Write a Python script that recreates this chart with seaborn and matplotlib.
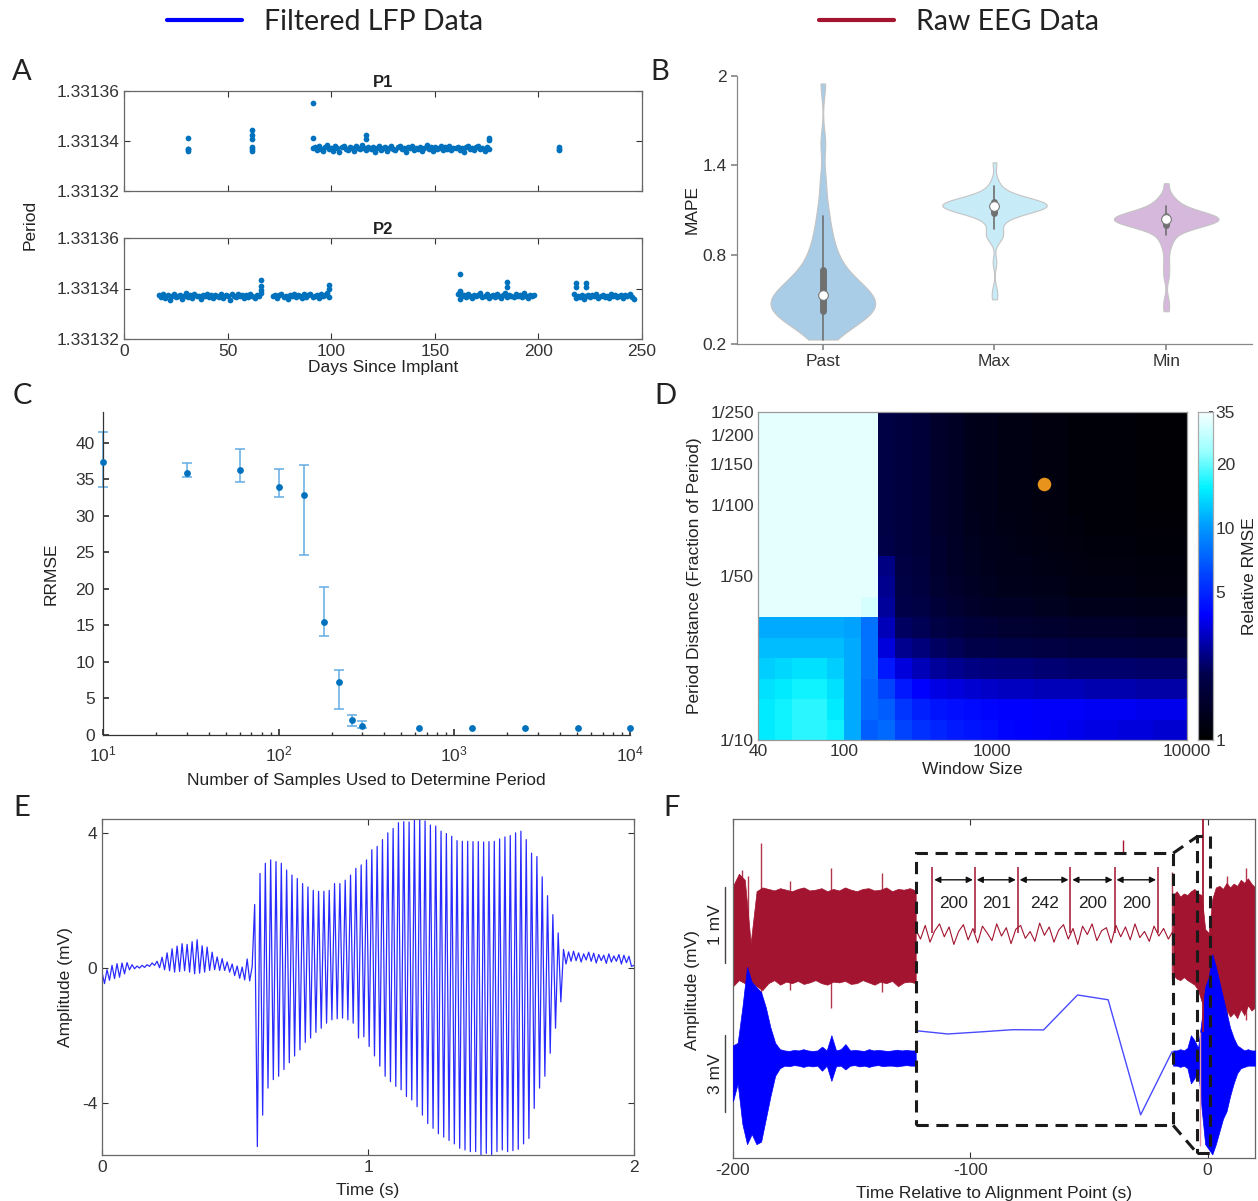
import numpy as np
import pandas as pd
import matplotlib
matplotlib.use("Agg")
import matplotlib.pyplot as plt
import matplotlib.transforms as mtransforms
from matplotlib.colors import LinearSegmentedColormap, LogNorm
from matplotlib.lines import Line2D
from matplotlib.patches import Rectangle
from matplotlib.ticker import FormatStrFormatter, NullLocator
import seaborn as sns

# ---------------------------------------------------------------- data
# Panel A : period estimates (offsets in 1e-7 relative to 1.33134)
A_BASE = 1.33134
a_yticks = [1.33132, 1.33134, 1.33136]
a_yticklabels = ["1.33132", "1.33134", "1.33136"]
p1_main_start = 91
p1_main_off = [-28, -22, -35, -19, -30, -41, -24, -17, -33, -27,
               -38, -21, -29, -45, -25, -18, -31, -36, -23, -27,
               -40, -20, -26, -33, -16, -29, -37, -24, -31, -22,
               -44, -27, -19, -34, -28, -23, -39, -26, -21, -30,
               -35, -25, -18, -32, -27, -42, -24, -29, -20, -36,
               -26, -31, -22, -38, -28, -17, -33, -25, -40, -23,
               -30, -27, -21, -35, -24, -32, -19, -37, -26, -29,
               -22, -34, -28, -43, -25, -20, -31, -27, -36, -23,
               -18, -30, -26, -39, -24, -33]
p1_extra_days = [31, 31, 31, 31, 62, 62, 62, 62, 62, 62, 91, 91, 117, 117, 176, 176, 210, 210, 210]
p1_extra_off = [11, -30, -33, -38, 44, 25, 10, -25, -33, -38, 153, 11, 25, 10, 13, 5, -25, -34, -30]

p2_a_start, p2_b_start, p2_c_start, p2_d_start = 17, 72, 161, 217
p2_a_off = [-25, -32, -20, -38, -27, -45, -30, -22, -35, -28,
            -24, -40, -29, -19, -33, -26, -37, -23, -31, -28,
            -42, -25, -30, -21, -34, -27, -38, -24, -29, -32,
            -20, -36, -26, -31, -44, -23, -28, -35, -22, -30,
            -27, -39, -25, -33, -21, -29, -36, -24, -31, -18]
p2_b_off = [-30, -24, -36, -27, -21, -33, -28, -40, -25, -31,
            -22, -35, -26, -29, -38, -23, -32, -27, -20, -34,
            -29, -25, -37, -22, -31, -26, -19, -33]
p2_c_off = [-20, -42, -30, -26, -35, -22, -29, -38, -24, -31,
            -27, -19, -34, -28, -23, -36, -30, -25, -33, -21,
            -29, -37, -26, -16, -32, -24, -28, -35, -22, -30,
            -26, -33, -18, -29, -36, -24, -31, -27]
p2_d_off = [-22, -38, -28, -33, -25, -40, -30, -24, -35, -27,
            -31, -21, -36, -29, -25, -33, -28, -39, -23, -30,
            -26, -34, -29, -24, -37, -27, -31, -22, -35, -42]
p2_extra_days = [66, 66, 66, 99, 99, 162, 162, 162, 185, 185, 218, 218, 223, 223]
p2_extra_off = [32, 10, -5, 13, 0, 57, -10, -15, 26, 5, 22, 5, 22, 5]

# Panel B : MAPE samples
b_categories = ["Past", "Max", "Min"]
b_past = [0.23, 0.26, 0.29, 0.31, 0.33, 0.35, 0.36, 0.37, 0.38, 0.39, 0.40, 0.41,
          0.42, 0.43, 0.44, 0.44, 0.45, 0.46, 0.46, 0.47, 0.48, 0.49, 0.50, 0.51,
          0.52, 0.53, 0.54, 0.55, 0.56, 0.57, 0.58, 0.59, 0.60, 0.62, 0.63, 0.65,
          0.67, 0.69, 0.71, 0.74, 0.77, 0.80, 0.84, 0.88, 0.93, 0.99, 1.06, 1.15,
          1.30, 1.55, 1.95]
b_max = [0.50, 0.56, 0.75, 0.90, 0.92, 0.93, 0.94, 0.97, 1.00, 1.03, 1.05, 1.06,
         1.07, 1.08, 1.09, 1.09, 1.10, 1.10, 1.10, 1.11, 1.11, 1.11, 1.12, 1.12,
         1.12, 1.12, 1.13, 1.13, 1.13, 1.13, 1.13, 1.14, 1.14, 1.14, 1.14, 1.15,
         1.15, 1.15, 1.15, 1.16, 1.16, 1.16, 1.17, 1.17, 1.18, 1.19, 1.20, 1.21,
         1.23, 1.26, 1.30, 1.42]
b_min = [0.42, 0.49, 0.65, 0.72, 0.80, 0.88, 0.89, 0.93, 0.96, 0.98, 0.99, 1.00,
         1.00, 1.01, 1.01, 1.02, 1.02, 1.02, 1.03, 1.03, 1.03, 1.03, 1.04, 1.04,
         1.04, 1.04, 1.04, 1.05, 1.05, 1.05, 1.05, 1.06, 1.06, 1.06, 1.07, 1.07,
         1.08, 1.09, 1.10, 1.11, 1.13, 1.16, 1.17, 1.18, 1.28]
b_colors = ["#a9cce7", "#c8ebf8", "#d6b8dc"]
b_yticks = [0.2, 0.8, 1.4, 2.0]
b_yticklabels = ["0.2", "0.8", "1.4", "2"]

# Panel C : RRMSE vs samples
c_samples = [10, 30, 60, 100, 140, 180, 220, 260, 300, 630, 1260, 2520, 5040, 10000]
c_rrmse = [37.3, 35.9, 36.2, 33.9, 32.8, 15.4, 7.3, 2.1, 1.3, 1.0, 1.0, 1.0, 1.0, 1.0]
c_upper = [41.4, 37.2, 39.1, 36.4, 37.0, 20.3, 8.9, 2.8, 1.9]
c_lower = [34.0, 35.3, 34.6, 32.6, 24.7, 13.5, 3.5, 1.2, 1.0]

# Panel D : relative RMSE grid (rows: 1/250 -> 1/10, cols: window 40 -> 10000)
d_grid = [
    [32, 32, 32, 32, 32, 32, 32, 1.9, 1.8, 1.7, 1.5, 1.4, 1.3, 1.25, 1.2, 1.2, 1.15, 1.15, 1.1, 1.1, 1.1, 1.1, 1.05, 1.05, 1.05],
    [32, 32, 32, 32, 32, 32, 32, 1.9, 1.8, 1.7, 1.5, 1.4, 1.3, 1.25, 1.2, 1.2, 1.15, 1.15, 1.1, 1.1, 1.1, 1.1, 1.05, 1.05, 1.05],
    [32, 32, 32, 32, 32, 32, 32, 1.9, 1.8, 1.7, 1.5, 1.4, 1.3, 1.25, 1.2, 1.2, 1.15, 1.15, 1.1, 1.1, 1.1, 1.1, 1.05, 1.05, 1.05],
    [32, 32, 32, 32, 32, 32, 32, 1.9, 1.8, 1.7, 1.5, 1.4, 1.3, 1.25, 1.2, 1.2, 1.15, 1.15, 1.1, 1.1, 1.1, 1.1, 1.05, 1.05, 1.05],
    [32, 32, 32, 32, 32, 32, 32, 1.9, 1.8, 1.7, 1.5, 1.4, 1.3, 1.25, 1.2, 1.2, 1.15, 1.15, 1.1, 1.1, 1.1, 1.1, 1.05, 1.05, 1.05],
    [32, 32, 32, 32, 32, 32, 32, 1.9, 1.8, 1.7, 1.5, 1.4, 1.32, 1.27, 1.22, 1.2, 1.17, 1.15, 1.12, 1.1, 1.1, 1.1, 1.07, 1.07, 1.07],
    [32, 32, 32, 32, 32, 32, 32, 2.0, 1.8, 1.7, 1.55, 1.45, 1.35, 1.3, 1.25, 1.22, 1.2, 1.18, 1.15, 1.13, 1.12, 1.12, 1.1, 1.1, 1.1],
    [32, 32, 32, 32, 32, 32, 32, 2.5, 1.85, 1.75, 1.55, 1.45, 1.37, 1.32, 1.27, 1.25, 1.22, 1.2, 1.17, 1.15, 1.15, 1.15, 1.12, 1.12, 1.12],
    [32, 32, 32, 32, 32, 32, 32, 2.6, 1.9, 1.8, 1.6, 1.5, 1.4, 1.35, 1.3, 1.3, 1.25, 1.25, 1.2, 1.2, 1.2, 1.2, 1.15, 1.15, 1.15],
    [32, 32, 32, 32, 32, 32, 30, 2.7, 2.0, 1.9, 1.7, 1.6, 1.5, 1.45, 1.4, 1.4, 1.35, 1.35, 1.3, 1.3, 1.3, 1.3, 1.25, 1.25, 1.25],
    [11, 11, 11, 11, 11, 10.5, 8, 3.0, 2.2, 2.1, 1.9, 1.8, 1.7, 1.65, 1.6, 1.6, 1.55, 1.55, 1.5, 1.5, 1.5, 1.5, 1.45, 1.45, 1.45],
    [12, 12, 12, 12, 12, 11, 8, 3.4, 2.6, 2.4, 2.2, 2.1, 2.0, 1.95, 1.9, 1.9, 1.85, 1.85, 1.8, 1.8, 1.8, 1.8, 1.75, 1.75, 1.75],
    [13, 13.5, 14, 14, 13, 11, 8, 4.5, 3.4, 3.0, 2.7, 2.6, 2.5, 2.45, 2.4, 2.4, 2.35, 2.35, 2.3, 2.3, 2.3, 2.3, 2.25, 2.25, 2.25],
    [14, 15, 16, 16, 14, 11, 7.5, 6.0, 4.5, 3.9, 3.5, 3.4, 3.3, 3.2, 3.1, 3.1, 3.0, 3.0, 3.0, 2.9, 2.9, 2.9, 2.8, 2.8, 2.8],
    [15, 16, 17, 17, 15, 11, 7.5, 7.0, 5.5, 4.8, 4.4, 4.2, 4.1, 4.0, 3.9, 3.9, 3.8, 3.8, 3.8, 3.7, 3.7, 3.7, 3.6, 3.6, 3.6],
    [15, 16, 17, 17, 16, 11, 7, 7.5, 6.0, 5.3, 4.9, 4.6, 4.4, 4.2, 4.0, 3.9, 3.8, 3.7, 3.6, 3.5, 3.5, 3.4, 3.4, 3.3, 3.3],
]
d_xtick_vals = [40, 100, 1000, 10000]
d_xtick_frac = [0.0, 0.2, 0.545, 1.0]
d_ytick_den = [250, 200, 150, 100, 50, 10]
d_ytick_labels = ["1/250", "1/200", "1/150", "1/100", "1/50", "1/10"]
d_best_window = 1850
d_best_den = 123
d_cbar_ticks = [1, 5, 10, 20, 35]

# Panel E : filtered LFP (peaks / troughs per cycle, mV)
e_start = -0.12
e_pre_troughs = [-0.46, -0.36, -0.31, -0.27, -0.17, -0.05, -0.02, 0.00, 0.02, 0.05,
                 0.08, 0.01, -0.05, -0.08, -0.12, -0.10, -0.08, -0.12, -0.17, -0.15,
                 -0.12, -0.07, -0.05, -0.07, -0.07, -0.12, -0.22, -0.30, -0.35, -0.38]
e_pre_peaks = [-0.05, 0.08, 0.13, 0.15, 0.16, 0.10, 0.06, 0.08, 0.10, 0.15,
               0.20, 0.32, 0.45, 0.57, 0.65, 0.72, 0.70, 0.78, 0.84, 0.66,
               0.62, 0.47, 0.33, 0.28, 0.18, 0.12, 0.06, 0.03, 0.27, 0.05]
e_burst_peaks = [1.88, 2.80, 3.10, 3.20, 3.15, 3.10, 2.90, 2.75, 2.65, 2.50,
                 2.40, 2.30, 2.27, 2.27, 2.30, 2.50, 2.50, 2.60, 2.75, 2.95,
                 3.05, 3.20, 3.50, 3.60, 3.80, 4.00, 4.13, 4.30, 4.33, 4.32,
                 4.40, 4.41, 4.35, 4.23, 4.20, 4.05, 3.98, 3.90, 3.77, 3.75,
                 3.75, 3.74, 3.74, 3.73, 3.74, 3.75, 3.82, 3.88, 3.92, 4.00,
                 4.05, 3.80, 3.40, 3.30, 2.70, 2.14, 1.58, 1.04]
e_burst_troughs = [-5.28, -4.35, -3.55, -3.30, -3.20, -3.00, -2.80, -2.60, -2.42, -2.20,
                   -2.07, -1.90, -1.78, -1.63, -1.53, -1.50, -1.48, -1.53, -1.63, -2.07,
                   -2.03, -2.32, -2.60, -2.90, -3.20, -3.36, -3.50, -3.60, -3.80, -3.90,
                   -4.10, -4.35, -4.60, -4.74, -4.90, -5.00, -5.10, -5.20, -5.33, -5.38,
                   -5.43, -5.43, -5.53, -5.48, -5.53, -5.43, -5.38, -5.43, -5.40, -5.36,
                   -5.20, -5.04, -4.15, -3.55, -3.20, -2.52, -1.78, -1.00]
e_post_peaks = [0.55, 0.48, 0.50, 0.45, 0.42, 0.47, 0.44, 0.40, 0.38, 0.42, 0.36, 0.40, 0.38, 0.35]
e_post_troughs = [0.12, 0.20, 0.22, 0.18, 0.24, 0.20, 0.15, 0.22, 0.14, 0.18, 0.20, 0.12, 0.16, 0.05]
e_end = 0.08
e_burst_on, e_burst_off = 0.574, 1.735

# Panel F : raw EEG (red, mV) and filtered LFP (blue, mV) around alignment point
f_red_left_hi = [0.62, 0.78, 0.70, -0.13, 0.55, 0.60, 0.58, 0.56, 0.59, 0.57, 0.55, 0.58,
                 0.60, 0.56, 0.57, 0.59, 0.55, 0.58, 0.56, 0.60, 0.57, 0.55, 0.58, 0.59,
                 0.56, 0.57, 0.60, 0.55, 0.58, 0.57, 0.59, 0.56]
f_red_left_lo = [-0.70, -0.62, -0.66, -0.65, -0.70, -0.75, -0.66, -0.62, -0.68, -0.64, -0.66,
                 -0.63, -0.67, -0.65, -0.62, -0.66, -0.68, -0.64, -0.65, -0.63, -0.67, -0.66,
                 -0.62, -0.65, -0.68, -0.64, -0.66, -0.63, -0.70, -0.65, -0.64, -0.66]
f_red_spike_t = [-196.3, -193.5, -188.0, -176.0, -158.6, -137.2, -15.0, 8.0, 16.0]
f_red_spike_top = [0.83, 0.75, 1.18, 0.68, 0.86, 0.79, 0.80, 0.75, 0.85]
f_red_spike_bot = [-0.62, -0.30, -0.79, -0.75, -0.99, -0.78, -0.60, -1.10, -1.15]
f_red_mid = [0.05, -0.08, 0.10, -0.12, 0.03, 0.12, -0.05, 0.08, -0.15, 0.02,
             0.11, -0.09, 0.06, -0.13, 0.09, 0.00, -0.10, 0.12, -0.04, 0.07,
             -0.14, 0.05, 0.10, -0.07, 0.02, -0.11, 0.13, -0.03, 0.08, -0.12,
             0.04, 0.11, -0.08, 0.06, -0.15, 0.09, -0.02, 0.12, -0.10, 0.03,
             0.07, -0.13, 0.10, -0.05, 0.08, -0.09, 0.12, -0.06, 0.02, -0.11,
             0.09, -0.04, 0.06, -0.08, 0.03]
f_red_right_hi = [0.50, 0.55, 0.48, 0.52, 0.50, 0.55, 0.58, 0.52, 0.50, 0.05, 0.00, 0.45,
                  0.60, 0.62, 0.58, 0.66, 0.60, 0.65, 0.62, 0.70, 0.66, 0.72, 0.65, 0.60]
f_red_right_lo = [-0.55, -0.60, -0.62, -0.58, -0.62, -0.65, -0.68, -0.75, -0.90, -0.95, -0.80, -0.82,
                  -0.90, -0.95, -1.05, -1.00, -1.10, -1.05, -1.12, -1.00, -1.08, -0.95, -1.02, -0.98]
f_peak_times = [-116.0, -98.1, -80.0, -57.8, -39.2, -20.9]
f_peak_height = 0.87
f_interval_labels = ["200", "201", "242", "200", "200"]
f_blue_left_hi = [0.5, 0.6, 2.0, 3.6, 3.0, 2.8, 2.6, 2.0, 1.2, 0.6, 0.35, 0.30, 0.28, 0.32,
                  0.30, 0.35, 0.30, 0.28, 0.30, 0.45, 0.30, 0.90, 0.30, 0.35, 0.55, 0.30,
                  0.32, 0.30, 0.28, 0.35, 0.30, 0.32, 0.30, 0.28, 0.30, 0.33, 0.30, 0.32, 0.30, 0.30]
f_blue_left_lo = [-1.7, -1.0, -2.6, -3.4, -3.0, -3.4, -3.3, -2.4, -1.5, -0.7, -0.40, -0.30, -0.32,
                  -0.28, -0.30, -0.35, -0.30, -0.33, -0.30, -0.50, -0.30, -0.90, -0.32, -0.30,
                  -0.45, -0.30, -0.28, -0.33, -0.30, -0.35, -0.30, -0.28, -0.32, -0.30, -0.30,
                  -0.33, -0.30, -0.28, -0.30, -0.30]
f_blue_right_hi = [0.30, 0.30, 0.35, 0.30, 0.40, 0.90, 0.70, 0.40, 1.50, 2.80, 3.20, 4.10,
                   3.60, 3.00, 2.40, 1.80, 1.20, 0.80, 0.50, 0.40, 0.30, 0.35, 0.30, 0.30]
f_blue_right_lo = [-0.30, -0.30, -0.35, -0.30, -0.40, -1.00, -0.80, -0.40, -2.00, -3.40, -3.60, -3.80,
                   -3.40, -2.90, -2.40, -2.10, -1.50, -1.00, -0.60, -0.40, -0.35, -0.30, -0.30, -0.30]
f_blue_mid_t = [-122.9, -109.5, -96.0, -82.0, -69.1, -54.8, -41.9, -28.2, -14.9]
f_blue_mid_mv = [1.08, 0.95, 1.03, 1.12, 1.11, 2.49, 2.30, -2.24, 0.26]

# ---------------------------------------------------------------- style
W, H = 1258, 1201
sns.set_theme(style="ticks")
plt.rcParams["font.family"] = ["Liberation Sans", "DejaVu Sans"]
plt.rcParams.update({
    "font.size": 12.5, "axes.labelsize": 12.5, "xtick.labelsize": 12.5, "ytick.labelsize": 12.5,
    "text.color": "#222222", "axes.labelcolor": "#222222",
    "xtick.color": "#333333", "ytick.color": "#333333",
    "axes.edgecolor": "#555555", "axes.linewidth": 0.9,
    "axes.unicode_minus": False,
})
MBLUE = "#0072BD"
RED = "#a2142f"
LFPBLUE = "#0000ff"

fig = plt.figure(figsize=(W / 100, H / 100), dpi=100)


def rect(l, t, r, b):
    return [l / W, 1 - b / H, (r - l) / W, (b - t) / H]


def boxed(ax):
    for sp in ax.spines.values():
        sp.set_visible(True)
        sp.set_color("#666666")
    ax.tick_params(direction="in", top=True, right=True, length=4, width=0.8)


# ---------------------------------------------------------------- legend + letters
handles = [Line2D([], [], color=LFPBLUE, lw=3), Line2D([], [], color=RED, lw=3)]
fig.legend(handles, ["Filtered LFP Data", "Raw EEG Data"], loc="center left",
           bbox_to_anchor=(167 / W, 1 - 22 / H), ncol=2, frameon=False, borderaxespad=0,
           borderpad=0, handlelength=2.63, handletextpad=0.77, columnspacing=11.8,
           prop={"family": ["Lato", "DejaVu Sans"], "size": 20.5})
for letter, (px, py) in zip("ABCDEF", [(22, 72), (660, 72), (22, 396), (665, 396), (22, 808), (672, 808)]):
    fig.text(px / W, 1 - py / H, letter, ha="center", va="center", fontsize=21,
             family=["Lato", "DejaVu Sans"])

# ---------------------------------------------------------------- A
def a_df(parts):
    days, per = [], []
    for start, offs in parts:
        days += list(np.arange(start, start + len(offs)))
        per += list(A_BASE + np.array(offs) * 1e-7)
    return pd.DataFrame({"day": days, "period": per})


p1 = pd.concat([a_df([(p1_main_start, p1_main_off)]),
                pd.DataFrame({"day": p1_extra_days, "period": A_BASE + np.array(p1_extra_off) * 1e-7})])
p2 = pd.concat([a_df([(p2_a_start, p2_a_off), (p2_b_start, p2_b_off), (p2_c_start, p2_c_off), (p2_d_start, p2_d_off)]),
                pd.DataFrame({"day": p2_extra_days, "period": A_BASE + np.array(p2_extra_off) * 1e-7})])

for i, (dfp, title, box) in enumerate([(p1, "P1", (124, 91, 642, 191)), (p2, "P2", (124, 238, 642, 339))]):
    ax = fig.add_axes(rect(*box))
    sns.scatterplot(data=dfp, x="day", y="period", ax=ax, color=MBLUE, s=17, linewidth=0)
    ax.set_xlim(0, 250)
    ax.set_ylim(a_yticks[0], a_yticks[-1])
    ax.set_yticks(a_yticks, labels=a_yticklabels)
    ax.set_xticks([0, 50, 100, 150, 200, 250])
    boxed(ax)
    ax.set_title(title, fontweight="bold", fontsize=12, pad=3)
    ax.set_ylabel("")
    if i == 0:
        ax.set_xticklabels([])
        ax.set_xlabel("")
    else:
        ax.set_xlabel("Days Since Implant", labelpad=1)
fig.text(30 / W, 1 - 225 / H, "Period", rotation=90, ha="center", va="center", fontsize=12.5)

# ---------------------------------------------------------------- B
df_b = pd.DataFrame({"cond": ["Past"] * len(b_past) + ["Max"] * len(b_max) + ["Min"] * len(b_min),
                     "mape": b_past + b_max + b_min})
ax = fig.add_axes(rect(737, 76, 1252, 344))
sns.violinplot(data=df_b, x="cond", y="mape", hue="cond", order=b_categories, hue_order=b_categories,
               palette=b_colors, legend=False, inner="box", cut=0, density_norm="width",
               width=0.61, linewidth=0.8, linecolor="#c4c4c4", saturation=1, bw_adjust=0.6,
               inner_kws=dict(box_width=5, whis_width=1.2, color="#707070", marker="o", markersize=7),
               ax=ax)
for ln in ax.lines:
    if ln.get_marker() == "o":
        ln.set_markeredgecolor("#777777")
        ln.set_markeredgewidth(0.8)
ax.set_xlim(-0.5, 2.5)
ax.set_ylim(0.2, 2.0)
ax.set_yticks(b_yticks, labels=b_yticklabels)
ax.set_xlabel("")
ax.set_ylabel("MAPE", labelpad=2)
sns.despine(ax=ax)
for sp in ("left", "bottom"):
    ax.spines[sp].set_color("#888888")
ax.tick_params(direction="out", length=4, color="#888888")

# ---------------------------------------------------------------- C
ax = fig.add_axes(rect(103, 412, 630, 735))
nb = len(c_upper)
cx = np.array(c_samples[:nb], dtype=float)
cy = np.array(c_rrmse[:nb])
ax.errorbar(cx, cy, yerr=[cy - np.array(c_lower), np.array(c_upper) - cy], fmt="none",
            ecolor="#62aee4", elinewidth=1.1, capsize=3.5, capthick=1.1, clip_on=False)
sns.scatterplot(x=c_samples, y=c_rrmse, ax=ax, color=MBLUE, s=24, linewidth=0, zorder=3, clip_on=False)
ax.set_xscale("log")
ax.set_xlim(10, 1e4)
ax.set_ylim(0, 44.2)
ax.set_yticks(np.arange(0, 41, 5))
sns.despine(ax=ax)
for sp in ("left", "bottom"):
    ax.spines[sp].set_color("#333333")
ax.tick_params(direction="in", which="both", length=4)
ax.tick_params(which="minor", length=2.5)
ax.tick_params(axis="x", which="major", pad=7)
ax.tick_params(axis="y", pad=6)
ax.set_xlabel("Number of Samples Used to Determine Period", labelpad=6)
ax.set_ylabel("RRMSE", labelpad=12)

# ---------------------------------------------------------------- D
cmap = LinearSegmentedColormap.from_list("rmse", [
    (0.0, (0, 0, 0)), (0.2, (0, 0, 0.3)), (0.38, (0, 0, 1)), (0.5, (0, 0.25, 1)),
    (0.65, (0, 0.6, 1)), (0.77, (0, 0.95, 1)), (0.88, (0.6, 1, 1)), (1.0, (0.97, 1, 1))])
ax = fig.add_axes(rect(758, 412, 1187, 740))
cax = fig.add_axes(rect(1198, 412, 1213, 740))
grid = np.array(d_grid)
nrow, ncol = grid.shape
sns.heatmap(grid, ax=ax, cmap=cmap, norm=LogNorm(1, 35), cbar_ax=cax,
            cbar_kws=dict(ticks=d_cbar_ticks), xticklabels=False, yticklabels=False)
ax.set_xticks(np.array(d_xtick_frac) * ncol, labels=[str(v) for v in d_xtick_vals], rotation=0)
yfr = (np.log10(d_ytick_den) - 1) / (np.log10(250) - 1)
ax.set_yticks((1 - yfr) * nrow, labels=d_ytick_labels, rotation=0)
ax.tick_params(length=0, pad=3)
for sp in ax.spines.values():
    sp.set_visible(True)
    sp.set_color("#999999")
bx = np.interp(np.log10(d_best_window), np.log10(d_xtick_vals), d_xtick_frac) * ncol
by = (1 - (np.log10(d_best_den) - 1) / (np.log10(250) - 1)) * nrow
sns.scatterplot(x=[bx], y=[by], ax=ax, color="#e8931b", s=95, linewidth=0, zorder=5)
ax.set_xlim(0, ncol)
ax.set_ylim(nrow, 0)
ax.set_xlabel("Window Size", labelpad=2)
ax.set_ylabel("Period Distance (Fraction of Period)", labelpad=6)
cax.yaxis.set_major_formatter(FormatStrFormatter("%g"))
cax.yaxis.set_minor_locator(NullLocator())
cax.tick_params(length=3, direction="in", pad=2)
cax.set_ylabel("Relative RMSE", labelpad=5)
for sp in cax.spines.values():
    sp.set_visible(True)
    sp.set_color("#aaaaaa")

# ---------------------------------------------------------------- E
def interleave(a, b):
    out = np.empty(len(a) + len(b))
    out[0::2] = a
    out[1::2] = b
    return out


pre = np.concatenate([[e_start], interleave(e_pre_troughs, e_pre_peaks)])
burst = interleave(e_burst_peaks, e_burst_troughs)
post = np.concatenate([interleave(e_post_peaks, e_post_troughs), [e_end]])
t_pre = np.linspace(0, e_burst_on, len(pre) + 1)[:-1]
t_burst = np.linspace(e_burst_on, e_burst_off, len(burst) + 1)[:-1]
t_post = np.linspace(e_burst_off, 2.0, len(post))
e_t = np.concatenate([t_pre, t_burst, t_post])
e_v = np.concatenate([pre, burst, post])
ax = fig.add_axes(rect(102, 819, 634, 1155))
sns.lineplot(x=e_t, y=e_v, ax=ax, sort=False, estimator=None, color="#2a2aff", lw=0.9)
ax.set_xlim(0, 2)
ax.set_ylim(-5.53, 4.41)
ax.set_xticks([0, 1, 2])
ax.set_yticks([-4, 0, 4])
boxed(ax)
ax.set_xlabel("Time (s)", labelpad=6)
ax.set_ylabel("Amplitude (mV)", labelpad=6)

# ---------------------------------------------------------------- F
BLUE_OFF, BLUE_SCALE = -1.645, 1 / 3
ax = fig.add_axes(rect(733, 819, 1255, 1158))
rlx = np.linspace(-200, -123, len(f_red_left_hi))
ax.fill_between(rlx, f_red_left_lo, f_red_left_hi, color=RED, lw=0.5, zorder=2)
rrx = np.linspace(-14.5, 20, len(f_red_right_hi))
ax.fill_between(rrx, f_red_right_lo, f_red_right_hi, color=RED, lw=0.5, zorder=2)
ax.vlines(f_red_spike_t, f_red_spike_bot, f_red_spike_top, color=RED, lw=1.0, alpha=0.85, zorder=2)
rmx = np.linspace(-123, -14.5, len(f_red_mid))
sns.lineplot(x=rmx, y=f_red_mid, ax=ax, sort=False, estimator=None, color=RED, lw=0.8)
ax.vlines(f_peak_times, 0, f_peak_height, color=RED, lw=1.1, zorder=2)
ax.vlines([-35.6], 1.05, 1.22, color=RED, lw=1.0)
blx = np.linspace(-200, -123, len(f_blue_left_hi))
ax.fill_between(blx, BLUE_OFF + np.array(f_blue_left_lo) * BLUE_SCALE,
                BLUE_OFF + np.array(f_blue_left_hi) * BLUE_SCALE, color=LFPBLUE, lw=0.5, zorder=3)
ax.fill_between(rrx, BLUE_OFF + np.array(f_blue_right_lo) * BLUE_SCALE,
                BLUE_OFF + np.array(f_blue_right_hi) * BLUE_SCALE, color=LFPBLUE, lw=0.5, zorder=3)
sns.lineplot(x=f_blue_mid_t, y=BLUE_OFF + np.array(f_blue_mid_mv) * BLUE_SCALE, ax=ax,
             sort=False, estimator=None, color="#4a4aff", lw=1.0)
ax.vlines([-2.0], -1.3, 1.6, color=RED, lw=1.3, zorder=4)
ax.vlines([-3.0], -2.8, -1.3, color="#e39aa8", lw=1.0, zorder=4)
for i, lab in enumerate(f_interval_labels):
    x1, x2 = f_peak_times[i], f_peak_times[i + 1]
    ax.annotate("", xy=(x2 - 0.8, 0.70), xytext=(x1 + 0.8, 0.70),
                arrowprops=dict(arrowstyle="<|-|>", color="#111111", lw=1.0,
                                mutation_scale=9, shrinkA=0, shrinkB=0))
    ax.text((x1 + x2) / 2, 0.39, lab, ha="center", va="center", fontsize=12.5, color="#222222")
dash = (0, (4, 2.5))
ax.add_patch(Rectangle((-123, -2.53), 108.5, 3.58, fill=False, ls=dash, lw=2.2, ec="#1a1a1a", zorder=6))
ax.add_patch(Rectangle((-4.3, -2.9), 5.5, 4.17, fill=False, ls=dash, lw=2.2, ec="#1a1a1a", zorder=6))
ax.plot([-14.5, -4.3], [1.05, 1.27], ls=dash, lw=2.2, color="#1a1a1a", zorder=6)
ax.plot([-14.5, -4.3], [-2.53, -2.9], ls=dash, lw=2.2, color="#1a1a1a", zorder=6)
ax.set_xlim(-200, 20)
ax.set_ylim(-2.96, 1.5)
ax.set_xticks([-200, -100, 0])
ax.set_yticks([])
boxed(ax)
ax.tick_params(left=False, right=False)
ax.set_xlabel("Time Relative to Alignment Point (s)", labelpad=6)
trans = mtransforms.blended_transform_factory(ax.transAxes, ax.transData)
for (y0, y1, lab) in [(0.605, -0.395, "1 mV"), (-1.34, -2.36, "3 mV")]:
    ax.plot([-0.016, -0.016], [y0, y1], transform=trans, clip_on=False, color="#444444", lw=1.0)
    ax.text(-0.034, (y0 + y1) / 2, lab, transform=trans, rotation=90, ha="center", va="center",
            fontsize=12.5)
fig.text(692 / W, 1 - 990 / H, "Amplitude (mV)", rotation=90, ha="center", va="center", fontsize=12.5)

fig.savefig("out.png", dpi=100)
